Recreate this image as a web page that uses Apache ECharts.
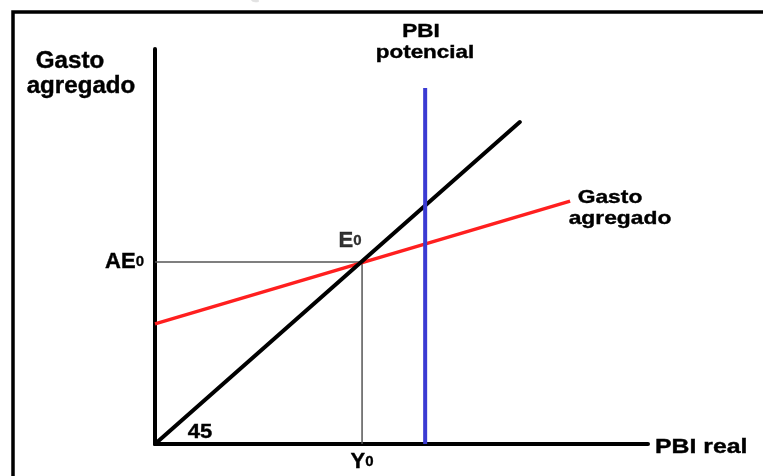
<!DOCTYPE html>
<html>
<head>
<meta charset="utf-8">
<script src="https://cdn.jsdelivr.net/npm/echarts@6/dist/echarts.min.js"></script>
<style>
  html, body { margin: 0; padding: 0; background: #fff; }
  #chart { width: 763px; height: 476px; }
</style>
</head>
<body>
<div id="chart"></div>
<script>
// datos (escala 0-100 en ambos ejes)
const equilibrio = [42, 46.1];            // [Y0, AE0]
const linea45 = [[0, 0], [74, 81.5]];
const gastoAgregado = [[0, 30.4], [84.2, 61.5]];
const pbiPotencial = [[54.8, 0], [54.8, 90.1]];
const guiaAE0 = [[0, equilibrio[1]], equilibrio];
const guiaY0 = [[equilibrio[0], 0], equilibrio];
const etiquetaX = 'Y';
const etiquetaY = 'AE';

const FONT = '"Liberation Sans", Arial, sans-serif';

function texto(t, x, y, size, sx, align, color) {
  return {
    type: 'text', x: x, y: y, scaleX: sx || 1,
    style: {
      text: t, x: 0, y: 0,
      align: align || 'center', verticalAlign: 'middle',
      font: 'bold ' + size + 'px ' + FONT,
      fill: color || '#000',
      stroke: color || '#000', lineWidth: 0.4
    }
  };
}

const subRich = {
  a: { fontFamily: FONT, fontWeight: 'bold', fontSize: 22, color: '#000',
       textBorderColor: '#000', textBorderWidth: 0.4 },
  s: { fontFamily: FONT, fontWeight: 'bold', fontSize: 15, color: '#000',
       textBorderColor: '#000', textBorderWidth: 0.3 }
};

const chart = echarts.init(document.getElementById('chart'));
chart.setOption({
  animation: false,
  backgroundColor: '#fff',
  grid: { left: 155, right: 115, top: 49, bottom: 32 },
  xAxis: {
    type: 'value', min: 0, max: 100, interval: equilibrio[0],
    axisLine: { show: true, onZero: false, lineStyle: { color: '#000', width: 4 } },
    axisTick: { show: false },
    splitLine: { show: false },
    axisLabel: {
      margin: 7, showMaxLabel: false,
      formatter: v => Math.abs(v - equilibrio[0]) < 0.01 ? '{a|' + etiquetaX + '}{s|0}' : '',
      rich: subRich
    }
  },
  yAxis: {
    type: 'value', min: 0, max: 100, interval: equilibrio[1],
    axisLine: { show: true, onZero: false, lineStyle: { color: '#000', width: 4 } },
    axisTick: { show: false },
    splitLine: { show: false },
    axisLabel: {
      margin: 11, showMaxLabel: false,
      formatter: v => Math.abs(v - equilibrio[1]) < 0.01 ? '{a|' + etiquetaY + '}{s|0}' : '',
      rich: subRich
    }
  },
  series: [
    { type: 'line', data: guiaAE0, symbol: 'none', z: 1,
      lineStyle: { color: '#555', width: 1.5 } },
    { type: 'line', data: guiaY0, symbol: 'none', z: 1,
      lineStyle: { color: '#555', width: 1.5 } },
    { name: 'Gasto agregado', type: 'line', data: gastoAgregado, symbol: 'none', z: 2,
      lineStyle: { color: '#ff1f1f', width: 3.5 } },
    { name: '45', type: 'line', data: linea45, symbol: 'none', z: 3,
      lineStyle: { color: '#000', width: 4, cap: 'round' } },
    { name: 'PBI potencial', type: 'line', data: pbiPotencial, symbol: 'none', z: 4,
      lineStyle: { color: '#3b3bd3', width: 4 } },
    { type: 'scatter', data: [equilibrio], symbolSize: 0, z: 5,
      label: {
        show: true, position: 'top', distance: 5, offset: [-12, -5],
        formatter: '{a|E}{s|0}', rich: subRich
      } }
  ],
  graphic: [
    { type: 'rect', shape: { x: 13, y: 12, width: 800, height: 500 },
      style: { fill: null, stroke: '#000', lineWidth: 3.5 }, z: 0 },
    texto('EQUILIBRIO CON RECESIÓN', 396, -9, 22, 1.12, 'center', '#e2e2e2'),
    texto('Gasto', 70, 62, 23, 1.05),
    texto('agregado', 81, 87, 23, 1.05),
    texto('PBI', 421, 32, 19, 1.18),
    texto('potencial', 425, 53, 19, 1.18),
    texto('Gasto', 610, 198, 19, 1.2),
    texto('agregado', 620, 219, 19, 1.2),
    texto('PBI real', 655, 447, 20, 1.24, 'left'),
    texto('45', 200, 432, 20, 1.1)
  ]
});
</script>
</body>
</html>
